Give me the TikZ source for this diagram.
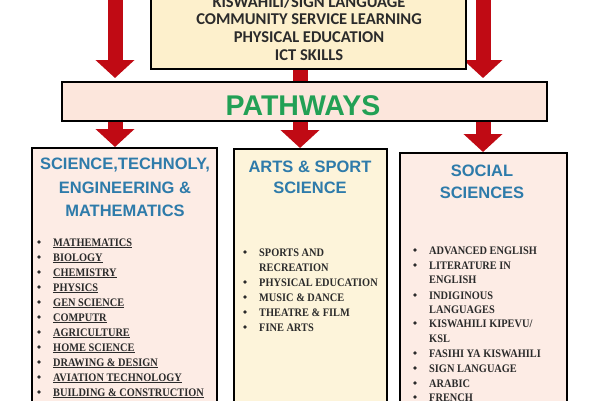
\documentclass[tikz,border=0pt]{standalone}
\usepackage{fontspec}
\setmainfont{Liberation Serif}
\newfontfamily\topfont{Carlito}
\newfontfamily\titlefont{Liberation Sans}
\newfontfamily\itemfont[FakeStretch=0.9]{Liberation Serif}
\usetikzlibrary{arrows.meta,backgrounds}
\definecolor{arrowred}{HTML}{C00A14}
\definecolor{corefill}{HTML}{FDF0CC}
\definecolor{pathfill}{HTML}{FCE6DC}
\definecolor{stemfill}{HTML}{FDECE5}
\definecolor{artsfill}{HTML}{FDF4DA}
\definecolor{titleblue}{HTML}{2E7BAA}
\definecolor{pathgreen}{HTML}{22A055}
\definecolor{itemgray}{HTML}{2B2B2B}
\tikzset{
  panel/.style={draw=black, line width=2pt, anchor=north west, inner sep=0pt, outer sep=0pt},
  redarrow/.style={draw=arrowred, line width=15pt, line cap=butt, -{Triangle[width=38pt,length=18pt]}},
  redshaft/.style={draw=arrowred, line width=15pt, line cap=butt},
  coretext/.style={anchor=base, inner sep=0pt, font=\topfont\bfseries\fontsize{16.5}{18}\selectfont, text=itemgray},
  coltitle/.style={anchor=base, inner sep=0pt, font=\titlefont\bfseries\fontsize{16.5}{18}\selectfont, text=titleblue},
  itemtext/.style={anchor=base west, inner sep=0pt, font=\itemfont\bfseries\fontsize{11.5}{13}\selectfont, text=itemgray},
  bulletdot/.style={fill=itemgray}
}
\begin{document}
\begin{tikzpicture}[x=1pt,y=-1pt]
\useasboundingbox (0,0) rectangle (599,400);

% boxes
\node[panel, fill=corefill, minimum width=315pt, minimum height=95pt] (core) at (151,-26) {};
\node[panel, fill=pathfill, minimum width=485pt, minimum height=39pt] (pathways) at (62,82) {};
\node[panel, fill=stemfill, minimum width=185pt, minimum height=272pt] (stem) at (32,148) {};
\node[panel, fill=artsfill, minimum width=153pt, minimum height=271pt] (arts) at (234,149) {};
\node[panel, fill=stemfill, minimum width=167pt, minimum height=267pt] (social) at (400,153) {};

% arrow anchor coordinates
\coordinate (topL) at (115,-10);
\coordinate (topR) at (483,-10);
\coordinate (midX) at (300,0);
\coordinate (lowL) at (115,0);
\coordinate (lowR) at (483,0);

\begin{scope}[on background layer]
  \fill[white] (0,0) rectangle (599,400);
  \draw[redarrow, shorten >=4pt] (topL) -- (pathways.north -| topL);
  \draw[redarrow, shorten >=4pt] (topR) -- (pathways.north -| topR);
  \draw[redshaft] (core.south -| midX) -- (pathways.north -| midX);
  \draw[redarrow, shorten >=1pt] (pathways.south -| lowL) -- (stem.north -| lowL);
  \draw[redarrow, shorten >=1pt] (pathways.south -| midX) -- (arts.north -| midX);
  \draw[redarrow, shorten >=1pt] (pathways.south -| lowR) -- (social.north -| lowR);
\end{scope}

% top box text
\node[coretext] (core1) at (309,7.3) {KISWAHILI/SIGN LANGUAGE};
\node[coretext] (core2) at (309,24.5) {COMMUNITY SERVICE LEARNING};
\node[coretext] (core3) at (309,42.5) {PHYSICAL EDUCATION};
\node[coretext] (core4) at (309,60.5) {ICT SKILLS};

% pathways
\node[anchor=base, inner sep=0pt, font=\titlefont\bfseries\fontsize{28.5}{30}\selectfont, text=pathgreen] (pathlabel) at (303,115) {PATHWAYS};

% column titles
\node[coltitle] (stemt1) at (125,169) {SCIENCE,TECHNOLY,};
\node[coltitle] (stemt2) at (125,193) {ENGINEERING \&};
\node[coltitle] (stemt3) at (125,216) {MATHEMATICS};
\node[coltitle] (artst1) at (310,172) {ARTS \& SPORT};
\node[coltitle] (artst2) at (310,193) {SCIENCE};
\node[coltitle] (socialt1) at (482,176) {SOCIAL};
\node[coltitle] (socialt2) at (482,198) {SCIENCES};

% STEM list (underlined)
\foreach \t [count=\i from 0] in {MATHEMATICS, BIOLOGY, CHEMISTRY, PHYSICS, GEN SCIENCE, COMPUTR, AGRICULTURE, HOME SCIENCE, DRAWING \& DESIGN, AVIATION TECHNOLOGY, BUILDING \& CONSTRUCTION} {
  \pgfmathsetmacro{\yy}{242+15*\i}
  \fill[bulletdot] (39,\yy) circle (1.8);
  \node[itemtext] (stemitem\i) at (53,\yy+4) {\underline{\t}};
}

% Arts list
\foreach \yy/\t/\b [count=\i] in {252/SPORTS AND/1, 267/RECREATION/0, 282/PHYSICAL EDUCATION/1, 297/MUSIC \& DANCE/1, 312/THEATRE \& FILM/1, 327/FINE ARTS/1} {
  \ifnum\b=1 \fill[bulletdot] (245,\yy) circle (1.8); \fi
  \node[itemtext] (artsitem\i) at (259,\yy+4) {\t};
}

% Social list
\foreach \yy/\t/\b [count=\i] in {250/ADVANCED ENGLISH/1, 265/LITERATURE IN/1, 279/ENGLISH/0, 295/INDIGINOUS/1, 309/LANGUAGES/0, 323/{KISWAHILI KIPEVU/}/1, 338/KSL/0, 353/FASIHI YA KISWAHILI/1, 368/SIGN LANGUAGE/1, 383/ARABIC/1, 397/FRENCH/1} {
  \ifnum\b=1 \fill[bulletdot] (415,\yy) circle (1.8); \fi
  \node[itemtext] (socialitem\i) at (429,\yy+4) {\t};
}
\end{tikzpicture}
\end{document}
